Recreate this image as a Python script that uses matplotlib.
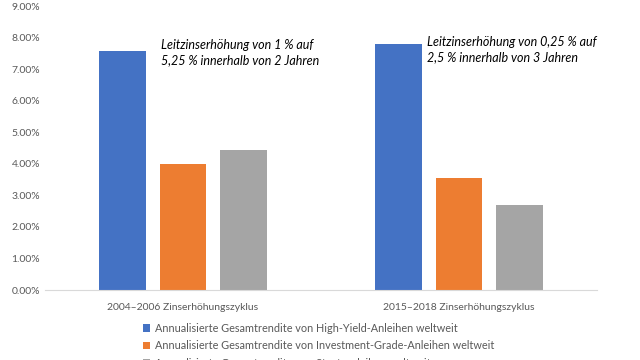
import numpy as np
import matplotlib.pyplot as plt
from matplotlib.ticker import FuncFormatter

cycles = ['2004–2006 Zinserhöhungszyklus', '2015–2018 Zinserhöhungszyklus']
high_yield = [7.56, 7.78]
inv_grade = [4.00, 3.56]
gov_bonds = [4.44, 2.70]
series_names = ['Annualisierte Gesamtrendite von High-Yield-Anleihen weltweit',
                'Annualisierte Gesamtrendite von Investment-Grade-Anleihen weltweit',
                'Annualisierte Gesamtrendite von Staatsanleihen weltweit']
notes = ['Leitzinserhöhung von 1 % auf\n5,25 % innerhalb von 2 Jahren',
         'Leitzinserhöhung von 0,25 % auf\n2,5 % innerhalb von 3 Jahren']

colors = ['#4472c4', '#ed7d31', '#a5a5a5']
plt.rcParams['font.family'] = ['Lato', 'DejaVu Sans']

fig = plt.figure(figsize=(6.4, 3.6), dpi=100)
ax = fig.add_axes([45 / 640, 70 / 360, 552 / 640, 284 / 360])

x = np.arange(len(cycles))
w = 0.17
step = 0.22
bars = []
for i, vals in enumerate([high_yield, inv_grade, gov_bonds]):
    b = ax.bar(x + (i - 1) * step, vals, w, color=colors[i], label=series_names[i])
    bars.append(b)

ax.set_xlim(-0.5, 1.5)
ax.set_ylim(0, 9)
ax.set_yticks(np.arange(0, 10, 1))
ax.yaxis.set_major_formatter(FuncFormatter(lambda v, p: f'{v:.2f}%'))
ax.set_xticks(x)
ax.set_xticklabels(cycles)
ax.tick_params(axis='both', length=0, labelsize=7.5, colors='#595959')
ax.tick_params(axis='x', pad=9)
for s in ['top', 'right', 'left']:
    ax.spines[s].set_visible(False)
ax.spines['bottom'].set_color('#d9d9d9')

# annotations near the blue bars
ax.text(x[0] - 0.078, 7.95, notes[0], fontsize=9, style='italic', va='top', linespacing=1.35)
ax.text(x[1] - 0.115, 8.05, notes[1], fontsize=9, style='italic', va='top', linespacing=1.35)

fig.legend(handles=bars, loc='upper left', bbox_to_anchor=(133 / 640, 1 - 313 / 360),
           frameon=False, fontsize=7.8, handlelength=0.7, handleheight=0.7,
           handletextpad=0.4, labelspacing=0.6, labelcolor='#595959')

fig.savefig('out.png', dpi=100)
